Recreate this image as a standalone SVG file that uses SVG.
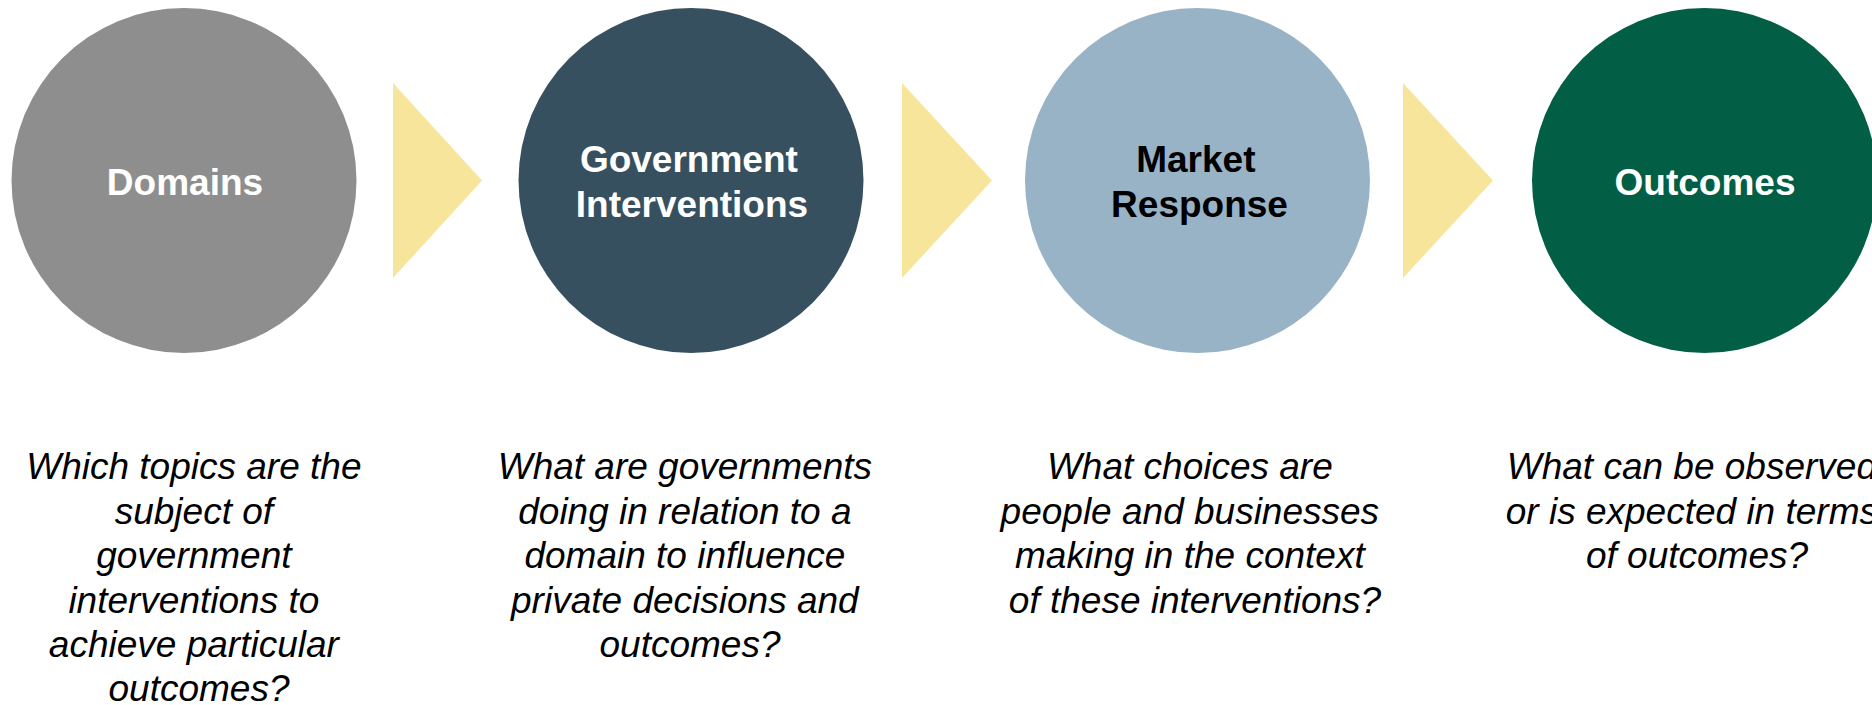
<svg xmlns="http://www.w3.org/2000/svg" width="1872" height="705" viewBox="0 0 1872 705">
  <style>
    .title { font-family: "Liberation Sans", Arial, sans-serif; font-weight: bold; font-size: 37px; text-anchor: middle; }
    .light { fill: #ffffff; }
    .dark { fill: #000000; }
    .desc { font-family: "Liberation Sans", Arial, sans-serif; font-style: italic; font-size: 37px; text-anchor: middle; fill: #000000; }
    .chev { fill: #F8E59C; }
  </style>
  <rect width="1872" height="705" fill="#ffffff"/>

  <!-- flow arrows between stages -->
  <g id="connectors">
    <polygon class="chev" points="393,83 393,278 482,180.5"/>
    <polygon class="chev" points="902,83 902,278 992,180.5"/>
    <polygon class="chev" points="1403,83 1403,278 1493,180.5"/>
  </g>

  <g id="domains">
    <circle cx="184" cy="180.5" r="172.5" fill="#8E8E8E"/>
    <text class="title light" x="185" y="195">Domains</text>
    <text class="desc" x="199">
      <tspan x="199" y="479">Which topics are the</tspan>
      <tspan x="199" y="523.5">subject of</tspan>
      <tspan x="199" y="568">government</tspan>
      <tspan x="199" y="612.5">interventions to</tspan>
      <tspan x="199" y="657">achieve particular</tspan>
      <tspan x="199" y="701">outcomes?</tspan>
    </text>
  </g>

  <g id="government-interventions">
    <circle cx="691" cy="180.5" r="172.5" fill="#37505F"/>
    <text class="title light" x="692">
      <tspan x="694" y="172">Government</tspan>
      <tspan x="692" y="217">Interventions</tspan>
    </text>
    <text class="desc" x="690">
      <tspan x="690" y="479">What are governments</tspan>
      <tspan x="690" y="523.5">doing in relation to a</tspan>
      <tspan x="690" y="568">domain to influence</tspan>
      <tspan x="690" y="612.5">private decisions and</tspan>
      <tspan x="690" y="657">outcomes?</tspan>
    </text>
  </g>

  <g id="market-response">
    <circle cx="1197.5" cy="180.5" r="172.5" fill="#98B2C6"/>
    <text class="title dark" x="1200">
      <tspan x="1201" y="172">Market</tspan>
      <tspan x="1199.5" y="217">Response</tspan>
    </text>
    <text class="desc" x="1195">
      <tspan x="1195" y="479">What choices are</tspan>
      <tspan x="1195" y="523.5">people and businesses</tspan>
      <tspan x="1195" y="568">making in the context</tspan>
      <tspan x="1195" y="612.5">of these interventions?</tspan>
    </text>
  </g>

  <g id="outcomes">
    <circle cx="1704.5" cy="180.5" r="172.5" fill="#025F45"/>
    <text class="title light" x="1705" y="195">Outcomes</text>
    <text class="desc" x="1697">
      <tspan x="1697" y="479">What can be observed</tspan>
      <tspan x="1697" y="523.5">or is expected in terms</tspan>
      <tspan x="1697" y="568">of outcomes?</tspan>
    </text>
  </g>
</svg>
